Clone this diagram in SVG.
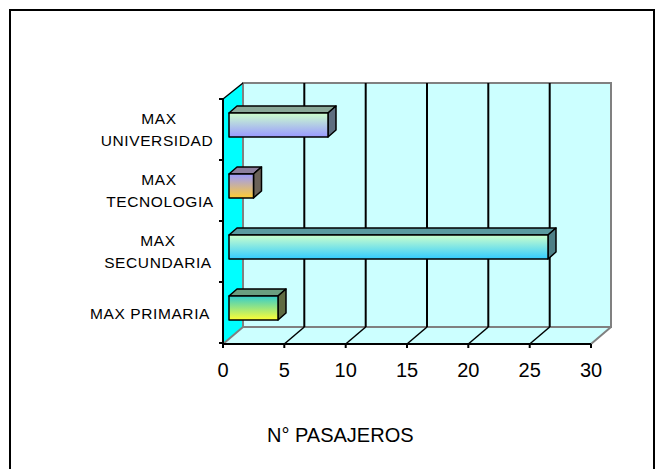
<svg xmlns="http://www.w3.org/2000/svg" width="656" height="469" viewBox="0 0 656 469">
<style>
.lbl{font-family:"Liberation Sans",Arial,sans-serif;font-size:15.5px;fill:#000;letter-spacing:0.6px}
.num{font-family:"Liberation Sans",Arial,sans-serif;font-size:20px;fill:#000;text-anchor:middle}
.ttl{font-family:"Liberation Sans",Arial,sans-serif;font-size:20px;fill:#000}
.grid{stroke:#000;stroke-width:2;fill:none}
.diag{stroke:#000;stroke-width:1.5;fill:none}
.edge{stroke:#808080;stroke-width:2;fill:none}
.bar{stroke:#000;stroke-width:1.5;stroke-linejoin:round}
</style>
<defs>
<linearGradient id="gU" x1="0" y1="0" x2="0" y2="1"><stop offset="0" stop-color="#CCFFCC"/><stop offset="1" stop-color="#9999FF"/></linearGradient>
<linearGradient id="gT" x1="0" y1="0" x2="0" y2="1"><stop offset="0" stop-color="#9999FF"/><stop offset="1" stop-color="#FFCC33"/></linearGradient>
<linearGradient id="gS" x1="0" y1="0" x2="0" y2="1"><stop offset="0" stop-color="#CCFFCC"/><stop offset="1" stop-color="#33CCFF"/></linearGradient>
<linearGradient id="gP" x1="0" y1="0" x2="0" y2="1"><stop offset="0" stop-color="#33CCCC"/><stop offset="1" stop-color="#FFFF33"/></linearGradient>
</defs>
<rect x="0" y="0" width="656" height="469" fill="#fff"/>
<rect x="10" y="10" width="644" height="470" fill="none" stroke="#000" stroke-width="2"/>
<g id="walls">
<rect x="243" y="83" width="368" height="244" fill="#CCFFFF"/>
<polygon points="223,344 591,344 611,327 243,327" fill="#CCFFFF"/>
<polygon points="223,99 243,83 243,327 223,344" fill="#00FFFF"/>
<polyline class="edge" points="243,327 243,83 611,83 611,327 243,327"/>
<line class="edge" x1="591" y1="344" x2="611" y2="327"/>
<line class="edge" x1="223" y1="344" x2="243" y2="327"/>
<line x1="223" y1="99" x2="243" y2="83" stroke="#000" stroke-width="1.5"/>
</g>
<g id="gridlines">
<line class="grid" x1="304.3" y1="83" x2="304.3" y2="327"/>
<line class="grid" x1="365.7" y1="83" x2="365.7" y2="327"/>
<line class="grid" x1="427" y1="83" x2="427" y2="327"/>
<line class="grid" x1="488.3" y1="83" x2="488.3" y2="327"/>
<line class="grid" x1="549.7" y1="83" x2="549.7" y2="327"/>
<line class="diag" x1="284.3" y1="344" x2="304.3" y2="327"/>
<line class="diag" x1="345.7" y1="344" x2="365.7" y2="327"/>
<line class="diag" x1="407" y1="344" x2="427" y2="327"/>
<line class="diag" x1="468.3" y1="344" x2="488.3" y2="327"/>
<line class="diag" x1="529.7" y1="344" x2="549.7" y2="327"/>
</g>
<g id="axes" stroke="#000" stroke-width="2">
<line x1="223" y1="99" x2="223" y2="345"/>
<line x1="222" y1="344" x2="591" y2="344"/>
<line x1="219" y1="99" x2="223" y2="99"/>
<line x1="219" y1="160" x2="223" y2="160"/>
<line x1="219" y1="221" x2="223" y2="221"/>
<line x1="219" y1="282" x2="223" y2="282"/>
<line x1="219" y1="343" x2="223" y2="343"/>
<line x1="223" y1="344" x2="223" y2="348"/>
<line x1="284.3" y1="344" x2="284.3" y2="348"/>
<line x1="345.7" y1="344" x2="345.7" y2="348"/>
<line x1="407" y1="344" x2="407" y2="348"/>
<line x1="468.3" y1="344" x2="468.3" y2="348"/>
<line x1="529.7" y1="344" x2="529.7" y2="348"/>
<line x1="591" y1="344" x2="591" y2="348"/>
</g>
<g id="bar-universidad">
<polygon class="bar" points="229,113 237,106 336,106 328,113" fill="#8AA898"/>
<polygon class="bar" points="328,113 336,106 336,130 328,137" fill="#5E6E80"/>
<rect class="bar" x="229" y="113" width="99" height="24" fill="url(#gU)"/>
</g>
<g id="bar-tecnologia">
<polygon class="bar" points="229,174 237,167 261.5,167 253.5,174" fill="#8C7F9E"/>
<polygon class="bar" points="253.5,174 261.5,167 261.5,191 253.5,198" fill="#6B6258"/>
<rect class="bar" x="229" y="174" width="24.5" height="24" fill="url(#gT)"/>
</g>
<g id="bar-secundaria">
<polygon class="bar" points="229,235 237,228 556,228 548,235" fill="#5A9AA0"/>
<polygon class="bar" points="548,235 556,228 556,252 548,259" fill="#4D7F86"/>
<rect class="bar" x="229" y="235" width="319" height="24" fill="url(#gS)"/>
</g>
<g id="bar-primaria">
<polygon class="bar" points="229,296 237,289 286,289 278,296" fill="#6A9E80"/>
<polygon class="bar" points="278,296 286,289 286,313 278,320" fill="#5F6B42"/>
<rect class="bar" x="229" y="296" width="49" height="24" fill="url(#gP)"/>
</g>
<g id="category-labels" text-anchor="middle">
<text class="lbl" x="159" y="124">MAX</text>
<text class="lbl" x="157" y="146">UNIVERSIDAD</text>
<text class="lbl" x="159" y="185">MAX</text>
<text class="lbl" x="160" y="207">TECNOLOGIA</text>
<text class="lbl" x="158" y="246">MAX</text>
<text class="lbl" x="158" y="268">SECUNDARIA</text>
<text class="lbl" x="150" y="319">MAX PRIMARIA</text>
</g>
<g id="value-labels">
<text class="num" x="223" y="377">0</text>
<text class="num" x="284.3" y="377">5</text>
<text class="num" x="345.7" y="377">10</text>
<text class="num" x="407" y="377">15</text>
<text class="num" x="468.3" y="377">20</text>
<text class="num" x="529.7" y="377">25</text>
<text class="num" x="591" y="377">30</text>
</g>
<text class="ttl" x="267" y="442">N° PASAJEROS</text>
</svg>
